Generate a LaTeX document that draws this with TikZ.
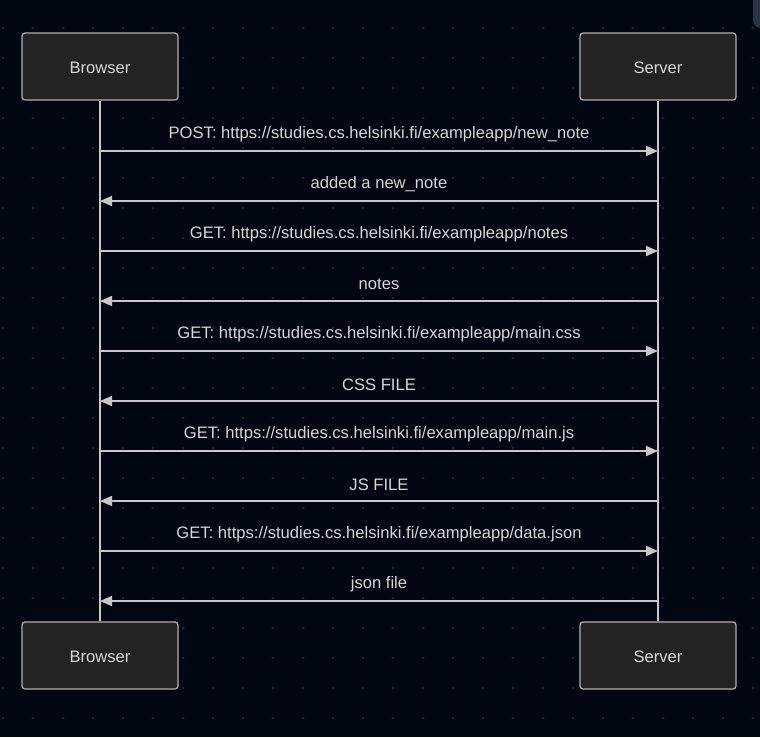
\documentclass[tikz,border=0pt]{standalone}
\usepackage{fontspec}
\setmainfont{Liberation Sans}
\usetikzlibrary{arrows.meta}
\definecolor{bgc}{HTML}{030712}
\definecolor{dotc}{HTML}{1C212C}
\definecolor{boxfill}{HTML}{222322}
\definecolor{boxline}{HTML}{B0B0B0}
\definecolor{linec}{HTML}{C8C8C8}
\definecolor{txtc}{HTML}{D6D6D6}
\definecolor{tabc}{HTML}{2A3344}
\begin{document}
\begin{tikzpicture}[x=1pt,y=-1pt,
  actor/.style={draw=boxline, line width=1.2pt, fill=boxfill, rounded corners=3pt,
    minimum width=156pt, minimum height=67pt, inner sep=0pt,
    text height=14pt, text depth=0pt,
    font=\fontsize{16.6}{18}\selectfont, text=txtc},
  life/.style={draw=linec, line width=1.8pt},
  msg/.style={draw=linec, line width=1.6pt, -{Triangle[length=12pt,width=10pt]}},
  lbl/.style={font=\fontsize{16.6}{18}\selectfont, text=txtc, inner sep=0pt}]
% canvas and dotted grid
\fill[bgc] (0,0) rectangle (760,737);
\useasboundingbox (0,0) rectangle (760,737);
\foreach \gx in {3,33,...,753}
  \foreach \gy in {28,58,...,718}
    \fill[dotc] (\gx,\gy) circle (1.6pt);
\fill[tabc, rounded corners=8pt] (753,-10) rectangle (775,28);
% actors
\node[actor] (bt) at (100,66.5) {Browser};
\node[actor] (st) at (658,66.5) {Server};
\node[actor] (bb) at (100,655.5) {Browser};
\node[actor] (sb) at (658,655.5) {Server};
% lifelines
\draw[life] (bt.south) -- (bb.north);
\draw[life] (st.south) -- (sb.north);
% messages
\foreach \y/\dir/\txt in {
  151/r/{POST: https://studies.cs.helsinki.fi/exampleapp/new\_note},
  201/l/{added a new\_note},
  251/r/{GET: https://studies.cs.helsinki.fi/exampleapp/notes},
  301/l/{notes},
  351/r/{GET: https://studies.cs.helsinki.fi/exampleapp/main.css},
  401/l/{CSS FILE},
  451/r/{GET: https://studies.cs.helsinki.fi/exampleapp/main.js},
  501/l/{JS FILE},
  551/r/{GET: https://studies.cs.helsinki.fi/exampleapp/data.json},
  601/l/{json file}} {
  \coordinate (b\y) at (100,\y);
  \coordinate (s\y) at (658,\y);
  \if r\dir
    \draw[msg] (b\y) -- (s\y);
  \else
    \draw[msg] (s\y) -- (b\y);
  \fi
  \node[lbl] (m\y) at (379,\y-16.5) {\txt};
}
\end{tikzpicture}
\end{document}
